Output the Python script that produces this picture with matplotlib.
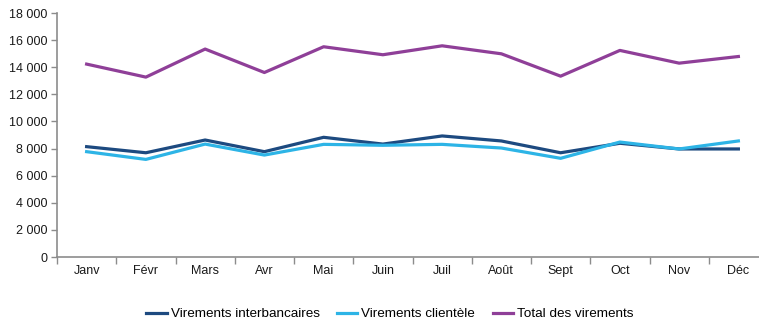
import matplotlib
matplotlib.use('Agg')
import matplotlib.pyplot as plt
import numpy as np

months = ['Janv', 'Févr', 'Mars', 'Avr', 'Mai', 'Juin', 'Juil', 'Août', 'Sept', 'Oct', 'Nov', 'Déc']
interbancaires = [8140, 7690, 8630, 7770, 8830, 8330, 8930, 8560, 7690, 8390, 7970, 7970]
clientele = [7770, 7200, 8330, 7520, 8310, 8240, 8310, 8040, 7280, 8480, 7970, 8560]
total = [14230, 13270, 15340, 13610, 15510, 14920, 15580, 14990, 13340, 15240, 14300, 14790]

C_DARK = '#1d4a80'
C_LIGHT = '#2db4e6'
C_PURPLE = '#8f3f98'
GREY = '#8c8c8c'

plt.rcParams['font.family'] = ['Liberation Sans', 'DejaVu Sans']

fig = plt.figure(figsize=(7.59, 3.24), dpi=100)
ax = fig.add_axes([57 / 759, 67 / 324, 711 / 759, 244 / 324])

x = np.arange(len(months))
ax.plot(x, interbancaires, color=C_DARK, lw=2.3, label='Virements interbancaires')
ax.plot(x, clientele, color=C_LIGHT, lw=2.3, label='Virements clientèle')
ax.plot(x, total, color=C_PURPLE, lw=2.3, label='Total des virements')

ax.set_xlim(-0.5, 11.5)
ax.set_ylim(0, 18000)
ax.set_yticks(np.arange(0, 18001, 2000))
ax.set_yticklabels(['0'] + ['{:,}'.format(v).replace(',', ' ') for v in range(2000, 18001, 2000)])
ax.set_xticks(x)
ax.set_xticklabels(months)
ax.set_xticks(np.arange(-0.5, 12, 1), minor=True)

for s in ['top', 'right']:
    ax.spines[s].set_visible(False)
for s in ['left', 'bottom']:
    ax.spines[s].set_color(GREY)
    ax.spines[s].set_linewidth(1.2)

ax.tick_params(axis='x', which='major', length=0, pad=6, labelsize=9, labelcolor='#1a1a1a')
ax.tick_params(axis='x', which='minor', length=5, color=GREY, width=1)
ax.tick_params(axis='y', length=4, color=GREY, width=1, pad=3, labelsize=9, labelcolor='#1a1a1a')

ax.legend(loc='center', bbox_to_anchor=(390 / 759, 10 / 324), bbox_transform=fig.transFigure,
          ncol=3, frameon=False, fontsize=9.7, handlelength=1.5, handletextpad=0.3,
          columnspacing=1.3)

fig.savefig('out.png', dpi=100)
